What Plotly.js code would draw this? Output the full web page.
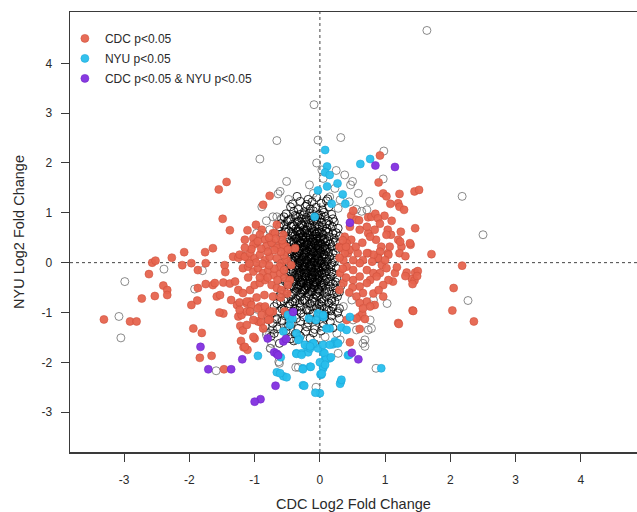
<!DOCTYPE html>
<html>
<head>
<meta charset="utf-8">
<script src="https://cdn.plot.ly/plotly-3.0.1.min.js"></script>
<style>
html,body{margin:0;padding:0;background:#fff;}
#chart{width:637px;height:512px;}
</style>
</head>
<body>
<div id="chart"></div>
<script>
// Legend / series names
const seriesNames = ["CDC p<0.05", "NYU p<0.05", "CDC p<0.05 & NYU p<0.05"];
const xTitle = "CDC Log2 Fold Change";
const yTitle = "NYU Log2 Fold Change";
const tickVals = [-3, -2, -1, 0, 1, 2, 3, 4];

// Not significant genes (open circles): [CDC log2FC, NYU log2FC]
const grayOuter = [
[1.64,4.66],[-0.09,3.17],[-0.03,2.46],[-0.66,2.45],[-0.92,2.08],[0.32,2.51],[0.98,2.24],[0.97,1.68],[2.18,1.33],[2.5,0.56],[2.27,-0.76],[1.03,-0.82],[0.86,-2.12],
[-2.99,-0.38],[-2.39,-0.13],[-3.08,-1.08],[-3.05,-1.51],[-1.92,-0.53],[-1.8,-0.16],[-1.59,-2.17],[-0.62,-2.02],[-0.06,-2.5],[-0.37,-2.1],[-0.33,-2.1],
[-0.51,1.63],[-0.61,1.43],[-0.64,1.38],[-0.48,1.27],[-0.16,1.56],[-0.1,1.39],[-0.89,1.12],[-0.82,0.84],[-0.66,0.92],[-0.59,0.89],[-0.33,0.92],[-0.05,2.0],
[0.25,1.85],[0.38,1.76],[0.5,1.63],[0.47,1.56],[0.23,1.49],[0.59,1.39],[0.76,1.23],[0.72,1.06],[0.56,1.07],[0.64,1.03],[0.45,1.22],[0.31,1.26],[0.28,1.09],[0.15,1.32],[0.05,1.69],[0.03,1.86],
[0.79,-0.85],[0.82,-0.75],[0.77,-1.15],[0.79,-1.32],[0.66,-1.62],[0.69,-1.68],[0.31,-1.55],[0.56,-1.35],[0.51,-1.15],[0.36,-0.88],[0.49,-0.75],[0.26,-1.42],[0.08,-1.49],[0.69,-1.55],[0.74,-1.35],[0.28,-0.98],[0.28,-1.82],
[-0.77,-1.42],[-0.82,-1.45],[-0.74,-1.62],[-0.72,-1.35],[-0.66,-1.29],[-0.59,-1.15],[-0.66,-1.15],[-0.51,-1.29],[-0.46,-1.35],[-0.36,-1.42],[-0.36,-1.55],[-0.76,-1.72],[-0.63,-1.99],
[-0.97,0.59],[-0.87,0.59],[-0.77,0.66],[-0.82,0.32],[-0.66,0.32],[-0.56,0.32],[-0.72,0.92],[-0.59,0.87],
[-1.07,-0.98],[-1.0,-1.08],[-0.82,-1.39],[-0.76,-1.72]
];
const grayCore = [
[-0.35,1.33],[-0.18,1.27],[-0.05,1.31],[0.12,1.28],
[-0.42,1.18],[-0.3,1.23],[-0.2,1.17],[-0.12,1.22],[0.02,1.19],[0.1,1.24],
[-0.45,1.12],[-0.33,1.07],[-0.22,1.13],[-0.15,1.08],[-0.06,1.11],[0.04,1.06],[0.14,1.12],
[-0.52,0.98],[-0.4,1.03],[-0.3,0.97],[-0.24,1.02],[-0.16,0.99],[-0.1,1.04],[-0.02,0.96],[0.06,1.01],[0.18,0.97],
[-0.55,0.92],[-0.45,0.87],[-0.36,0.93],[-0.28,0.88],[-0.21,0.91],[-0.14,0.86],[-0.07,0.92],[0.0,0.89],[0.08,0.93],[0.2,0.88],
[-0.6,0.78],[-0.5,0.83],[-0.42,0.77],[-0.35,0.81],[-0.29,0.76],[-0.22,0.82],[-0.16,0.79],[-0.1,0.83],[-0.04,0.77],[0.03,0.81],[0.1,0.78],[0.22,0.82],
[-0.62,0.72],[-0.52,0.67],[-0.44,0.73],[-0.37,0.68],[-0.31,0.71],[-0.25,0.66],[-0.19,0.72],[-0.13,0.69],[-0.08,0.73],[-0.02,0.67],[0.04,0.71],[0.11,0.68],[0.19,0.72],[0.28,0.69],
[-0.58,0.58],[-0.48,0.63],[-0.41,0.57],[-0.35,0.62],[-0.29,0.59],[-0.23,0.63],[-0.18,0.56],[-0.12,0.61],[-0.07,0.58],[-0.01,0.62],[0.05,0.57],[0.12,0.61],[0.2,0.59],
[-0.6,0.52],[-0.5,0.47],[-0.43,0.53],[-0.37,0.48],[-0.32,0.51],[-0.26,0.46],[-0.21,0.52],[-0.15,0.49],[-0.1,0.53],[-0.05,0.47],[0.01,0.51],[0.07,0.48],[0.14,0.52],[0.22,0.49],[0.3,0.53],
[-0.55,0.38],[-0.47,0.42],[-0.4,0.37],[-0.34,0.43],[-0.29,0.39],[-0.24,0.41],[-0.18,0.36],[-0.13,0.42],[-0.08,0.38],[-0.03,0.43],[0.03,0.37],[0.09,0.41],[0.16,0.38],[0.24,0.42],
[-0.5,0.32],[-0.43,0.27],[-0.37,0.33],[-0.31,0.28],[-0.26,0.31],[-0.21,0.26],[-0.16,0.32],[-0.11,0.29],[-0.06,0.33],[-0.01,0.27],[0.05,0.31],[0.11,0.28],[0.18,0.32],[0.27,0.29],
[-0.48,0.18],[-0.41,0.23],[-0.35,0.17],[-0.3,0.22],[-0.24,0.19],[-0.19,0.23],[-0.14,0.17],[-0.09,0.21],[-0.04,0.18],[0.01,0.22],[0.07,0.17],[0.13,0.21],[0.2,0.19],
[-0.5,0.12],[-0.44,0.07],[-0.38,0.13],[-0.32,0.08],[-0.27,0.11],[-0.22,0.06],[-0.17,0.12],[-0.12,0.09],[-0.07,0.13],[-0.02,0.07],[0.03,0.11],[0.09,0.08],[0.15,0.12],[0.22,0.09],
[-0.47,-0.02],[-0.41,0.03],[-0.35,-0.03],[-0.3,0.02],[-0.25,-0.01],[-0.2,0.04],[-0.15,-0.03],[-0.1,0.01],[-0.05,-0.02],[0.0,0.03],[0.06,-0.03],[0.12,0.02],[0.18,-0.01],
[-0.52,-0.08],[-0.45,-0.13],[-0.38,-0.07],[-0.32,-0.12],[-0.27,-0.09],[-0.22,-0.14],[-0.17,-0.08],[-0.12,-0.11],[-0.07,-0.07],[-0.02,-0.13],[0.04,-0.09],[0.1,-0.12],[0.17,-0.08],[0.25,-0.11],
[-0.48,-0.22],[-0.41,-0.17],[-0.35,-0.23],[-0.29,-0.18],[-0.24,-0.21],[-0.19,-0.16],[-0.14,-0.22],[-0.09,-0.19],[-0.04,-0.23],[0.01,-0.17],[0.07,-0.21],[0.14,-0.18],[0.21,-0.22],
[-0.55,-0.28],[-0.46,-0.33],[-0.39,-0.27],[-0.33,-0.32],[-0.27,-0.29],[-0.22,-0.34],[-0.17,-0.28],[-0.12,-0.31],[-0.07,-0.27],[-0.02,-0.33],[0.04,-0.29],[0.1,-0.32],[0.17,-0.28],[0.26,-0.31],
[-0.5,-0.42],[-0.42,-0.37],[-0.36,-0.43],[-0.3,-0.38],[-0.25,-0.41],[-0.2,-0.36],[-0.15,-0.42],[-0.1,-0.39],[-0.05,-0.43],[0.0,-0.37],[0.06,-0.41],[0.13,-0.38],[0.2,-0.42],
[-0.58,-0.48],[-0.48,-0.53],[-0.41,-0.47],[-0.35,-0.52],[-0.29,-0.49],[-0.23,-0.54],[-0.18,-0.48],[-0.13,-0.51],[-0.08,-0.47],[-0.03,-0.53],[0.03,-0.49],[0.09,-0.52],[0.16,-0.48],[0.24,-0.51],[0.32,-0.47],
[-0.6,-0.62],[-0.5,-0.57],[-0.43,-0.63],[-0.36,-0.58],[-0.3,-0.61],[-0.24,-0.56],[-0.18,-0.62],[-0.12,-0.59],[-0.06,-0.63],[0.0,-0.57],[0.07,-0.61],[0.14,-0.58],[0.22,-0.62],[0.3,-0.59],
[-0.62,-0.68],[-0.52,-0.73],[-0.44,-0.67],[-0.37,-0.72],[-0.3,-0.69],[-0.24,-0.74],[-0.17,-0.68],[-0.1,-0.71],[-0.04,-0.67],[0.03,-0.73],[0.1,-0.69],[0.18,-0.72],[0.27,-0.68],
[-0.66,-0.82],[-0.55,-0.77],[-0.46,-0.83],[-0.38,-0.78],[-0.31,-0.81],[-0.23,-0.76],[-0.15,-0.82],[-0.08,-0.79],[-0.01,-0.83],[0.06,-0.77],[0.14,-0.81],[0.23,-0.78],
[-0.7,-0.88],[-0.58,-0.93],[-0.48,-0.87],[-0.39,-0.92],[-0.3,-0.89],[-0.21,-0.94],[-0.13,-0.88],[-0.05,-0.91],[0.03,-0.87],[0.11,-0.93],[0.2,-0.89],[0.3,-0.92],
[-0.75,-1.02],[-0.62,-0.97],[-0.5,-1.03],[-0.4,-0.98],[-0.29,-1.01],[-0.19,-0.96],[-0.1,-1.02],[-0.01,-0.99],[0.08,-1.03],[0.17,-0.97],[0.27,-1.01],
[-0.8,-1.08],[-0.66,-1.13],[-0.53,-1.07],[-0.36,-1.12],[-0.25,-1.09],[-0.14,-1.14],[-0.04,-1.08],[0.07,-1.11],[0.18,-1.07],[0.3,-1.12],
[-0.72,-1.22],[-0.58,-1.17],[-0.44,-1.23],[-0.3,-1.18],[-0.18,-1.21],[-0.06,-1.16],[0.05,-1.22],[0.16,-1.19],
[-0.84,-1.28],[-0.65,-1.33],[-0.48,-1.27],[-0.33,-1.32],[-0.2,-1.29],[-0.08,-1.34],[0.04,-1.28],[0.2,-1.31],
[-0.7,-1.42],[-0.52,-1.37],[-0.38,-1.43],[-0.22,-1.38],[-0.1,-1.41],[0.02,-1.37],
[-0.75,-1.48],[-0.45,-1.53],[-0.3,-1.47],[-0.15,-1.52],
[-0.62,-1.62],[-0.4,-1.57],[-0.08,-1.63]
];
const grayInner = [
[-0.33,0.64],[-0.21,0.66],[-0.09,0.63],
[-0.38,0.55],[-0.26,0.54],[-0.15,0.56],[-0.04,0.53],
[-0.4,0.44],[-0.27,0.46],[-0.18,0.45],[-0.06,0.44],[0.05,0.46],
[-0.34,0.35],[-0.23,0.34],[-0.13,0.36],[-0.03,0.35],[0.08,0.34],
[-0.38,0.25],[-0.27,0.24],[-0.16,0.26],[-0.07,0.24],[0.04,0.26],
[-0.35,0.15],[-0.24,0.16],[-0.14,0.14],[-0.05,0.15],[0.06,0.16],
[-0.38,0.05],[-0.28,0.04],[-0.18,0.06],[-0.08,0.05],[0.03,0.04],
[-0.34,-0.05],[-0.23,-0.06],[-0.13,-0.04],[-0.04,-0.05],[0.08,-0.06],
[-0.36,-0.15],[-0.26,-0.14],[-0.16,-0.16],[-0.06,-0.15],[0.05,-0.14],
[-0.32,-0.25],[-0.21,-0.26],[-0.11,-0.24],[-0.01,-0.25],
[-0.38,-0.35],[-0.26,-0.36],[-0.15,-0.34],[-0.04,-0.35],[0.08,-0.36],
[-0.32,-0.45],[-0.2,-0.46],[-0.1,-0.44],[0.02,-0.45],
[-0.27,-0.55],[-0.14,-0.56],[-0.02,-0.54],
[-0.38,0.95],[-0.25,0.96],[-0.12,0.94],[0.02,0.95],
[-0.48,0.85],[-0.33,0.84],[-0.19,0.86],[-0.05,0.85],[0.13,0.84],
[-0.55,0.75],[-0.4,0.74],[-0.27,0.76],[-0.15,0.75],[-0.01,0.74],[0.15,0.76],
[-0.53,0.62],[-0.44,0.61],[-0.31,0.63],[-0.2,0.6],[-0.04,0.61],[0.09,0.63],[0.25,0.6],
[-0.58,0.42],[-0.44,0.41],[-0.31,0.42],[-0.2,0.4],[-0.11,0.41],[0.0,0.4],[0.12,0.43],[0.2,0.41],
[-0.53,0.22],[-0.44,0.21],[-0.33,0.2],[-0.22,0.21],[-0.12,0.22],[-0.02,0.2],[0.1,0.22],[0.24,0.2],
[-0.54,0.02],[-0.44,0.01],[-0.33,0.0],[-0.23,0.02],[-0.13,0.01],[-0.03,0.0],[0.09,0.02],[0.22,0.01],
[-0.52,-0.18],[-0.44,-0.19],[-0.32,-0.2],[-0.22,-0.18],[-0.12,-0.19],[-0.02,-0.2],[0.1,-0.18],[0.18,-0.19],
[-0.53,-0.38],[-0.4,-0.39],[-0.28,-0.4],[-0.18,-0.38],[-0.08,-0.39],[0.03,-0.4],[0.16,-0.38],[0.24,-0.39],
[-0.55,-0.58],[-0.4,-0.6],[-0.27,-0.58],[-0.15,-0.59],[-0.03,-0.6],[0.1,-0.58],[0.26,-0.6],
[-0.6,-0.78],[-0.42,-0.79],[-0.27,-0.77],[-0.12,-0.78],[0.02,-0.79],[0.18,-0.77],
[-0.55,-0.95],[-0.35,-0.96],[-0.16,-0.95],[0.0,-0.94],[0.14,-0.96],
[-0.3,0.58],[-0.17,0.6],[-0.06,0.57],[0.03,0.6],
[-0.35,0.49],[-0.22,0.5],[-0.11,0.48],[-0.01,0.49],
[-0.31,0.39],[-0.2,0.38],[-0.09,0.4],[0.01,0.38],
[-0.36,0.3],[-0.24,0.29],[-0.13,0.31],[-0.03,0.3],[0.08,0.29],
[-0.32,0.2],[-0.21,0.19],[-0.1,0.2],[0.0,0.19],
[-0.36,0.1],[-0.25,0.11],[-0.14,0.09],[-0.04,0.1],[0.07,0.11],
[-0.31,0.0],[-0.2,-0.01],[-0.09,0.0],[0.02,-0.01],
[-0.35,-0.1],[-0.24,-0.09],[-0.13,-0.11],[-0.03,-0.1],[0.08,-0.09],
[-0.3,-0.2],[-0.19,-0.21],[-0.08,-0.2],[0.03,-0.21],
[-0.34,-0.3],[-0.23,-0.29],[-0.12,-0.31],[-0.02,-0.3],
[-0.29,-0.4],[-0.17,-0.41],[-0.06,-0.4],
[-0.33,-0.5],[-0.21,-0.51],[-0.09,-0.5]
];

// CDC p<0.05 only
const cdcSig = [
[-3.31,-1.14],[-2.91,-1.18],[-2.81,-1.18],[-2.73,-0.72],[-2.62,-0.23],[-2.57,0.0],[-2.52,0.04],[-2.4,-0.46],[-2.34,-0.55],[-2.34,-0.65],[-2.53,-0.67],[-2.27,0.1],[-2.08,0.21],[-2.11,-0.05],[-1.97,-0.01],[-1.76,0.21],[-1.75,-0.01],[-1.87,-0.15],[-1.87,-0.51],[-1.88,-0.76],[-1.97,-0.85],[-1.94,-1.32],[-1.81,-1.41],[-1.84,-1.91],[-1.66,-1.87],[-1.47,-2.14],[-1.75,-0.43],[-1.64,-0.45],[-1.58,-0.68],[-1.53,-0.65],[-1.48,-1.02],[-1.54,-1.0],[-1.64,0.29],
[-1.55,1.47],[-1.43,1.62],[-1.49,0.88],[-1.38,0.65],[-1.11,0.65],[-0.98,0.76],[-0.87,1.16],[-0.77,1.34],[-1.15,0.46],[-1.02,0.49],[-0.89,0.66],[-0.72,0.59],[-0.66,0.76],[-0.56,0.56],[-0.92,0.56],[-0.98,0.39],[-0.84,0.46],[-0.69,0.59],[-0.74,0.39],[-0.61,0.36],[-0.52,0.32],[-0.38,0.29],
[-1.33,0.12],[-1.25,0.1],[-1.18,0.14],[-1.1,0.08],
[-1.22,-1.27],[-1.18,-1.36],[-1.12,-1.25],[-1.21,-1.57],[-1.17,-1.7],[-1.11,-1.75],[-1.0,-1.52],
[-1.25,-1.08],[-1.2,-1.05],[-1.12,-0.98],[-1.27,-0.85],[-1.23,-0.8],[-1.12,-0.82],[-1.07,-0.78],[-0.95,-1.18],[-0.9,-1.2],[-0.87,-1.32],[-0.92,-0.88],[-0.84,-0.92],[-0.78,-1.02],[-0.77,-1.14],[-0.72,-0.98],[-0.54,-0.98],
[-1.02,0.36],[-0.95,0.43],[-0.82,0.33],[-0.74,0.4],[-0.66,0.29],[-0.56,0.36],[-0.49,0.26],
[-1.23,0.16],[-1.15,0.12],[-1.07,0.19],[-1.0,0.09],[-0.92,0.16],[-0.84,0.05],[-0.77,0.12],[-0.66,0.09],[-0.59,-0.01],[-0.51,0.05],[-0.44,-0.05],
[-1.46,-0.05],[-1.45,-0.19],
[-1.18,-0.11],[-1.1,-0.08],[-1.02,-0.18],[-0.95,-0.11],[-0.87,-0.21],[-0.79,-0.15],[-0.71,-0.25],[-0.61,-0.21],[-0.54,-0.31],[-0.46,-0.35],
[-1.61,-0.41],[-1.48,-0.4],[-1.38,-0.42],[-1.3,-0.38],[-1.25,-0.55],[-1.18,-0.61],[-1.07,-0.55],[-1.0,-0.45],[-0.92,-0.41],[-0.84,-0.35],[-0.74,-0.45],[-0.66,-0.51],[-0.59,-0.55],[-0.49,-0.45],
[-1.36,-0.75],[-1.12,-0.78],[-1.05,-0.85],[-0.95,-0.92],[-0.84,-0.88],[-0.77,-0.98],[-1.07,-0.98],[-1.23,-0.95],[-0.89,-1.05],[-0.79,-1.15],[-1.02,-1.15],
[-1.02,-1.49],[-1.15,-1.69],
[-0.55,0.15],[-0.6,0.22],[-0.7,0.25],[-0.8,0.22],[-0.9,0.28],[-1.05,0.27],[-1.15,0.3],[-0.62,-0.08],[-0.7,-0.12],[-0.78,-0.05],[-0.88,-0.02],[-0.98,0.0],[-1.08,-0.02],[-0.55,-0.15],[-0.65,-0.35],[-0.8,-0.3],[-0.92,-0.3],[-1.1,-0.3],[-0.58,0.45],[-0.68,0.48],[-0.78,0.5],[-0.5,-0.62],[-0.6,-0.7],[-0.72,-0.68],[-0.85,-0.65],[-0.97,-0.7],
[0.92,2.15],[0.9,1.61],[0.97,1.39],[1.02,1.33],[1.22,1.38],[1.08,1.18],[1.2,1.19],[1.22,1.12],[1.29,1.06],[1.45,1.43],[1.52,1.46],[1.46,0.69],[1.71,0.17],[1.1,0.84],[1.24,0.62],[0.99,0.94],[0.74,0.91],[0.79,0.92],[0.85,0.98],[0.89,0.89],[0.92,0.78],
[1.04,0.66],[1.09,0.56],[1.02,0.56],[1.2,0.46],[1.25,0.32],[1.22,0.19],[1.39,0.36],[1.31,0.13],[0.48,0.94],[0.46,0.72],[0.61,0.66],[0.74,0.59],[0.84,0.66],[0.86,0.46],[0.94,0.32],[1.04,0.19],[0.89,0.12],[0.74,0.19],[0.48,0.46],[0.38,0.52],[0.3,0.32],[0.43,0.19],[0.58,0.19],
[1.38,0.39],[1.23,0.42],[1.46,-0.2],[1.5,-0.17],[1.41,-0.33],[1.33,-0.2],[1.15,-0.21],[1.18,-0.09],[1.12,-0.38],[1.42,-0.96],[1.2,-1.21],[0.97,-0.68],[0.82,-0.62],[0.84,-0.85],[0.61,-1.08],[0.65,-1.03],[0.69,-1.13],[0.61,-1.33],[0.41,-1.15],[0.46,-1.6],
[1.07,0.32],[1.05,0.16],[0.92,0.22],[0.89,0.09],[0.95,-0.05],[0.82,0.16],[0.72,0.19],[0.66,0.05],[0.61,-0.01],[0.51,0.05],[0.46,0.26],[0.41,-0.08],[0.36,0.05],[0.51,-0.15],[0.72,-0.15],[0.82,-0.21],[0.92,-0.21],[1.02,-0.11],[1.05,-0.35],[0.97,-0.45],[0.87,-0.28],[0.77,-0.35],[0.72,-0.41],[0.61,-0.48],[0.51,-0.35],[0.61,-0.28],[0.66,-0.61],[0.56,-0.68],[0.72,-0.78],[0.61,-0.81],[0.77,-0.88],[0.66,-0.92],[0.33,0.29],[0.38,0.19],[0.41,0.39],[0.31,-0.21],[0.36,-0.41],[0.56,-1.12],
[0.51,1.04],[0.56,0.86],[0.72,0.72],[0.77,0.52],
[0.3,0.1],[0.35,-0.12],[0.4,0.32],[0.55,0.32],[0.65,0.4],[0.5,-0.5],[0.45,-0.6],[0.4,-0.3],[0.9,-0.55],[1.0,0.05],[0.8,0.02],[0.3,-0.55],[0.35,0.45],[0.6,0.85],
[2.18,-0.06],[2.05,-0.51],[2.03,-0.96],[2.36,-1.18],[1.21,-1.23],[1.43,-0.97],[1.31,-0.27],[1.45,-0.36],[1.49,-0.27],[1.42,-0.43]
];

// NYU p<0.05 only
const nyuSig = [
[0.08,2.26],[0.11,1.93],[0.08,1.81],[0.15,1.76],[0.62,1.98],[0.77,2.08],[0.11,1.53],[0.27,1.59],[0.35,1.37],[0.18,1.18],[0.39,1.18],[-0.03,1.45],[-0.08,0.92],
[0.05,-1.09],[0.46,-1.09],[0.15,-1.32],[0.33,-1.3],[0.41,-1.35],[0.23,-1.58],[0.2,-1.64],[0.26,-1.62],[0.05,-1.8],[0.08,-1.93],[0.43,-1.86],[0.15,-1.92],[0.94,-2.12],[0.32,-2.39],[0.31,-2.43],[0.0,-2.62],[0.02,-2.25],[0.05,-2.12],
[-0.95,-1.87],[-0.66,-2.2],[-0.56,-2.28],[-0.6,-1.9],[-0.26,-2.46],[-0.07,-2.61],
[-0.56,-1.38],[-0.46,-1.25],[-0.46,-1.12],[-0.49,-1.05],[-0.36,-1.82],[-0.28,-1.82],[-0.18,-1.8],[-0.2,-1.69],[-0.11,-1.62],[-0.26,-2.12],[-0.15,-2.09],[-0.31,-1.52],[-0.23,-1.65],[-0.15,-1.72],[-0.03,-1.72],[0.05,-1.65],[0.07,-1.82],[0.09,-1.95],[0.05,-2.09],[0.01,-2.24],[-0.03,-1.02],[0.05,-1.05],[-0.06,-1.15],[-0.17,-1.12],[0.1,-1.32],
[-0.36,-1.83],[-0.28,-1.85],[-0.1,-1.62],[-0.14,-2.09],[-0.26,-2.14],[-0.51,-2.3],[-0.24,-2.47],[0.0,-2.0],[0.08,-2.05],[0.03,-2.23],[0.17,-1.9],[0.15,-1.65],[0.28,-1.62],[0.45,-1.85],[0.33,-2.35],[-0.61,-2.22],
[-0.42,-1.12],[-0.36,-1.42],[-0.33,-1.55],[-0.15,-1.68]
];

// CDC p<0.05 & NYU p<0.05
const bothSig = [
[0.85,1.95],[1.15,1.92],[0.46,0.8],[0.49,-1.81],[0.59,-1.94],[-1.83,-1.69],[-1.71,-2.14],[-1.36,-2.14],[-1.19,-1.94],[-0.8,-1.52],[-0.7,-1.8],[-0.66,-1.83],[-0.64,-1.86],[-0.56,-1.58],[-0.52,-1.53],[-0.68,-2.47],[-0.91,-2.74],[-1.0,-2.79],[-0.41,-0.99]
];

const grayDense = grayCore.concat(grayInner);
const xs = a => a.map(p => p[0]);
const ys = a => a.map(p => p[1]);

const FONT = "Liberation Sans, Arial, Helvetica, sans-serif";
const AXIS = "#3a3a3a";

const traces = [
  {x: xs(grayOuter), y: ys(grayOuter), type: "scatter", mode: "markers", showlegend: false, hoverinfo: "skip",
   marker: {symbol: "circle-open", size: 8, color: "rgba(90,90,90,0.7)", line: {width: 1}}},
  {x: xs(grayDense), y: ys(grayDense), type: "scatter", mode: "markers", showlegend: false, hoverinfo: "skip",
   marker: {symbol: "circle-open", size: 8, color: "rgba(0,0,0,0.8)", line: {width: 1}}},
  {x: xs(cdcSig), y: ys(cdcSig), type: "scatter", mode: "markers", name: seriesNames[0], legendgroup: "g1",
   marker: {size: 8, color: "rgba(230,100,78,0.95)", line: {width: 0.6, color: "rgba(205,78,58,0.9)"}}},
  {x: xs(nyuSig), y: ys(nyuSig), type: "scatter", mode: "markers", name: seriesNames[1], legendgroup: "g2",
   marker: {size: 8, color: "rgba(40,190,236,0.95)", line: {width: 0.6, color: "rgba(25,165,215,0.9)"}}},
  {x: xs(bothSig), y: ys(bothSig), type: "scatter", mode: "markers", name: seriesNames[2], legendgroup: "g3",
   marker: {size: 8, color: "rgba(132,52,224,0.97)", line: {width: 0.6, color: "rgba(110,35,200,0.9)"}}}
];

const layout = {
  width: 637, height: 512,
  margin: {l: 70, r: 0, t: 12, b: 60},
  paper_bgcolor: "#fff", plot_bgcolor: "#fff",
  font: {family: FONT, size: 12, color: "#2a2a2a"},
  showlegend: true,
  legend: {x: -0.009, y: 0.973, xanchor: "left", yanchor: "top", bgcolor: "rgba(0,0,0,0)",
           font: {family: FONT, size: 12, color: "#2a2a2a"}, itemwidth: 30, tracegroupgap: 1},
  xaxis: {range: [-3.83, 4.86], tickvals: tickVals, ticktext: tickVals.map(String),
          showgrid: false, zeroline: false, showline: true, mirror: true, linecolor: AXIS, linewidth: 1.5,
          ticks: "outside", ticklen: 8, tickwidth: 1, tickcolor: AXIS, ticklabelstandoff: 8,
          tickfont: {family: FONT, size: 12, color: "#2a2a2a"},
          title: {text: xTitle, font: {family: FONT, size: 14.5, color: "#2a2a2a"}, standoff: 13}},
  yaxis: {range: [-3.8, 5.03], tickvals: tickVals, ticktext: tickVals.map(String),
          showgrid: false, zeroline: false, showline: true, mirror: false, linecolor: AXIS, linewidth: 1.5,
          ticks: "outside", ticklen: 8, tickwidth: 1, tickcolor: AXIS, ticklabelstandoff: 6,
          tickfont: {family: FONT, size: 12, color: "#2a2a2a"},
          title: {text: yTitle, font: {family: FONT, size: 14.5, color: "#2a2a2a"}, standoff: 13}},
  shapes: [
    {type: "line", xref: "x", yref: "paper", x0: 0, x1: 0, y0: 0, y1: 1, line: {color: "#444", width: 1, dash: "dot"}, layer: "below"},
    {type: "line", xref: "paper", yref: "y", x0: 0, x1: 1, y0: 0, y1: 0, line: {color: "#444", width: 1, dash: "dot"}, layer: "below"}
  ]
};

Plotly.newPlot("chart", traces, layout, {staticPlot: true, displayModeBar: false});
</script>
</body>
</html>
